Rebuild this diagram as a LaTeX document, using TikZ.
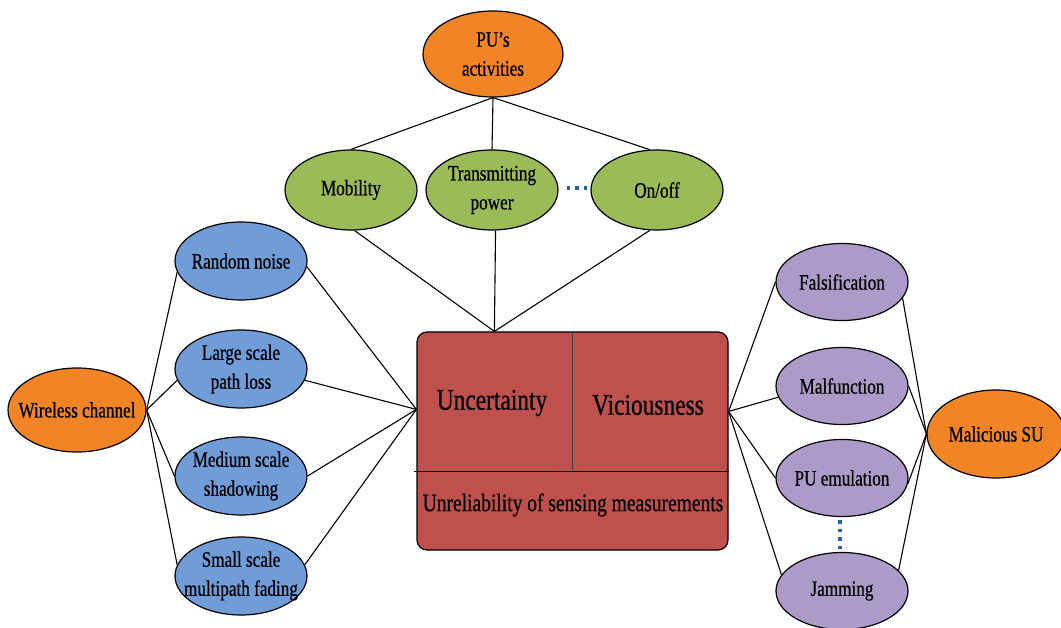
\documentclass[tikz,border=0pt]{standalone}
\usepackage{fontspec}
\setmainfont{Liberation Serif}[FakeStretch=0.78,FakeBold=0.6]
\usetikzlibrary{shapes.geometric,calc}

\definecolor{hubOrange}{RGB}{241,132,36}
\definecolor{actGreen}{RGB}{155,187,89}
\definecolor{chanBlue}{RGB}{112,156,216}
\definecolor{attPurple}{RGB}{172,155,200}
\definecolor{coreRed}{RGB}{192,80,77}
\definecolor{dotBlue}{RGB}{40,100,160}

\begin{document}
\begin{tikzpicture}[x=1pt,y=-1pt,
  blob/.style={ellipse, draw=black, line width=1.2pt, inner sep=0pt,
               minimum width=132pt, minimum height=80pt},
  hub/.style={blob, fill=hubOrange, minimum width=140pt, minimum height=86pt},
  act/.style={blob, fill=actGreen},
  chan/.style={blob, fill=chanBlue, minimum height=78pt},
  att/.style={blob, fill=attPurple, minimum height=77pt},
  lbl/.style={align=center, text=black, inner sep=0pt,
              font=\fontsize{22}{29}\selectfont},
  boxtxt/.style={text=black, inner sep=0pt, font=\fontsize{30}{34}\selectfont},
  link/.style={draw=black, line width=1.1pt},
  dots/.style={draw=dotBlue, line width=3.4pt, dash pattern=on 3.4pt off 5.2pt}
]
\useasboundingbox (0,0) rectangle (1061,628);

% ---- top: primary user activities
\node[hub] (pu) at (493,54) {};
\node[lbl] (pu-l) at (pu) {PU's\\activities};
\node[act] (mob) at (351,190) {};
\node[lbl] (mob-l) at (mob) {Mobility};
\node[act] (tx) at (492,190) {};
\node[lbl] (tx-l) at (tx) {Transmitting\\power};
\node[act] (onoff) at (657,190) {};
\node[lbl] (onoff-l) at (onoff) {On/off};

% ---- centre block
\node[draw=black, line width=1.2pt, rounded corners=10pt, fill=coreRed,
      minimum width=311pt, minimum height=218pt, inner sep=0pt] (box) at (572.5,441) {};
\coordinate (hl) at ($(box.north west)!0.638!(box.south west)$);
\coordinate (hr) at ($(box.north east)!0.638!(box.south east)$);
\draw[line width=1.4pt] ($(hl)+(-2,0)$) -- (hr);
\draw[line width=1.1pt, black!75] (box.north) -- (box.north |- hl);
\node[boxtxt] (unc) at (492,403) {Uncertainty};
\node[boxtxt] (vic) at (648,405) {Viciousness};
\node[boxtxt, font=\fontsize{25}{30}\selectfont] (unrel) at (573,505)
     {Unreliability of sensing measurements};
\coordinate (btop) at ($(box.north west)+(78,0)$);
\coordinate (bleft) at ($(box.north west)+(0,78)$);
\coordinate (bright) at ($(box.north east)+(0,80)$);

% ---- left: wireless channel impairments
\node[hub, minimum width=138pt, minimum height=84pt] (wc) at (77,410) {};
\node[lbl] (wc-l) at (wc) {Wireless channel};
\node[chan] (rn) at (241,261) {};
\node[lbl] (rn-l) at (rn) {Random noise};
\node[chan] (lsp) at (241,369) {};
\node[lbl] (lsp-l) at (lsp) {Large scale\\path loss};
\node[chan] (msh) at (241,476) {};
\node[lbl] (msh-l) at (msh) {Medium scale\\shadowing};
\node[chan] (ssm) at (241,576) {};
\node[lbl] (ssm-l) at (ssm) {Small scale\\multipath fading};

% ---- right: malicious secondary user attacks
\node[hub, minimum width=138pt, minimum height=88pt] (msu) at (996,434) {};
\node[lbl] (msu-l) at (msu) {Malicious SU};
\node[att] (fal) at (842,282) {};
\node[lbl] (fal-l) at (fal) {Falsification};
\node[att] (mal) at (842,386) {};
\node[lbl] (mal-l) at (mal) {Malfunction};
\node[att] (pue) at (842,478) {};
\node[lbl] (pue-l) at (pue) {PU emulation};
\node[att] (jam) at (842,591) {};
\node[lbl] (jam-l) at (jam) {Jamming};

% ---- connectors
\path[link] (pu.south) -- (mob.north);
\path[link] (pu.south) -- (tx.north);
\path[link] (pu.south) -- (onoff.100);
\path[link] (mob.-85) -- (btop);
\path[link] (tx.-85) -- (btop);
\path[link] (onoff.-100) -- (btop);

\path[link] (wc.east) -- (rn.190);
\path[link] (wc.east) -- (lsp.190);
\path[link] (wc.east) -- (msh.west);
\path[link] (wc.east) -- (ssm.170);
\path[link] (rn.-5) -- (bleft);
\path[link] (lsp.-10) -- (bleft);
\path[link] (msh.east) -- (bleft);
\path[link] (ssm.10) -- (bleft);

\path[link] (bright) -- (fal.west);
\path[link] (bright) -- (mal.190);
\path[link] (bright) -- (pue.west);
\path[link] (bright) -- (jam.165);
\path[link] (msu.west) -- (fal.-15);
\path[link] (msu.west) -- (mal.east);
\path[link] (msu.west) -- (pue.-5);
\path[link] (msu.west) -- (jam.20);

% ---- ellipsis marks
\path[dots] ($(tx.east)+(8,-2)$) -- ($(onoff.west)+(-3,-2)$);
\path[dots] ($(pue.south)+(-2,3)$) -- ($(jam.north)+(-2,-3)$);
\end{tikzpicture}
\end{document}
